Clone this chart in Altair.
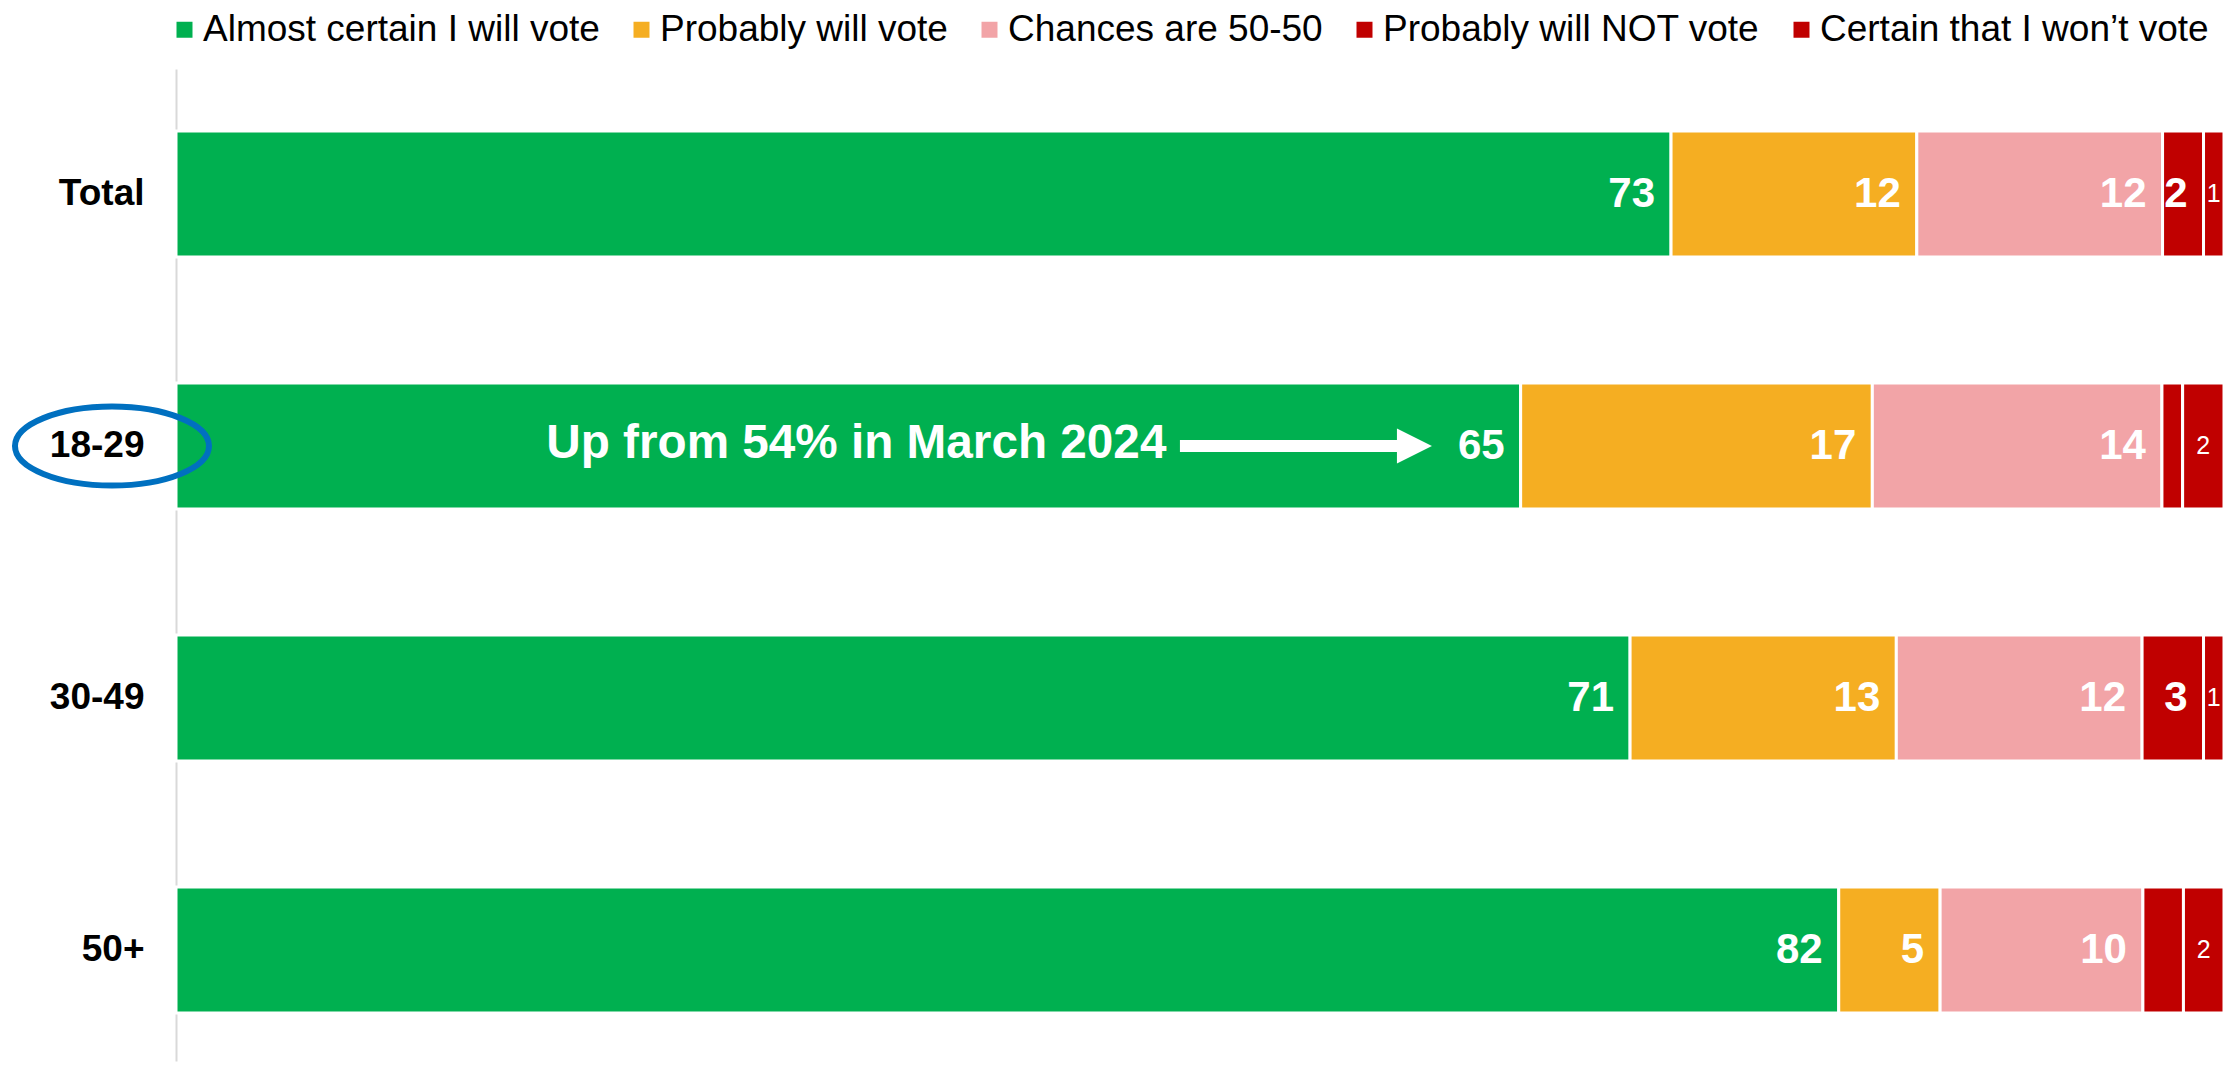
import altair as alt
import pandas as pd

groups = ["Total", "18-29", "30-49", "50+"]
categories = [
    "Almost certain I will vote",
    "Probably will vote",
    "Chances are 50-50",
    "Probably will NOT vote",
    "Certain that I won\u2019t vote",
]
colors = ["#00B050", "#F5AE22", "#F2A4A7", "#C00000", "#C00000"]

almost_certain = [73, 65, 71, 82]
probably = [12, 17, 13, 5]
fifty_fifty = [12, 14, 12, 10]
probably_not = [2, 1, 3, 2]
certain_not = [1, 2, 1, 2]

labels_almost_certain = ["73", "65", "71", "82"]
labels_probably = ["12", "17", "13", "5"]
labels_fifty_fifty = ["12", "14", "12", "10"]
labels_probably_not = ["2", "", "3", ""]
labels_certain_not = ["1", "2", "1", "2"]

series = [almost_certain, probably, fifty_fifty, probably_not, certain_not]
series_labels = [labels_almost_certain, labels_probably, labels_fifty_fifty,
                 labels_probably_not, labels_certain_not]
label_styles = ["big", "big", "big", "big", "small"]

rows = []
for ci, (cat, vals, labs, sty) in enumerate(zip(categories, series, series_labels, label_styles)):
    for gi, g in enumerate(groups):
        rows.append({"group": g, "category": cat, "order": ci,
                     "value": vals[gi], "label": labs[gi], "style": sty})
df = pd.DataFrame(rows)

annotation_text = "Up from 54% in March 2024"
annotation_group = "18-29"

FONT = "Liberation Sans, Arial, Helvetica, sans-serif"

xscale = alt.Scale(domain=[0, 1], nice=False, zero=False)
yscale = alt.Scale(domain=groups, paddingInner=0.5, paddingOuter=0.2183, align=0.564)

base = (
    alt.Chart(df)
    .transform_joinaggregate(total="sum(value)", groupby=["group"])
    .transform_calculate(pct="datum.value / datum.total")
    .transform_stack(stack="pct", groupby=["group"], sort=[alt.SortField("order")], as_=["x0", "x1"])
    .transform_calculate(xm="(datum.x0 + datum.x1) / 2")
)

ycol = alt.Y(
    "group:N",
    sort=groups,
    scale=yscale,
    axis=alt.Axis(
        title=None,
        ticks=False,
        grid=False,
        domainColor="#D9D9D9",
        domainWidth=2,
        labelFont=FONT,
        labelFontSize=37,
        labelFontWeight="bold",
        labelColor="#000000",
        labelPadding=32,
    ),
)

bars = base.mark_bar(stroke="white", strokeWidth=3).encode(
    x=alt.X("x0:Q", scale=xscale, axis=None),
    x2="x1:Q",
    y=ycol,
    color=alt.Color(
        "category:N",
        sort=categories,
        scale=alt.Scale(domain=categories, range=colors),
        legend=alt.Legend(
            title=None,
            orient="none",
            direction="horizontal",
            columns=5,
            legendX=-10,
            legendY=-58,
            symbolType="square",
            symbolSize=256,
            symbolStrokeWidth=0,
            labelFont=FONT,
            labelFontSize=37,
            labelColor="#000000",
            labelOffset=0,
            columnPadding=23,
            labelLimit=1000,
        ),
    ),
    order=alt.Order("order:Q"),
)

big_labels = base.transform_filter("datum.style == 'big'").mark_text(
    align="right", baseline="middle", dx=-16, font=FONT, fontSize=42,
    fontWeight="bold", color="white",
).encode(
    x=alt.X("x1:Q", scale=xscale, axis=None),
    y=alt.Y("group:N", sort=groups, scale=yscale),
    text="label:N",
)

small_labels = base.transform_filter("datum.style == 'small'").mark_text(
    align="center", baseline="middle", font=FONT, fontSize=25,
    fontWeight="normal", color="white",
).encode(
    x=alt.X("xm:Q", scale=xscale, axis=None),
    y=alt.Y("group:N", sort=groups, scale=yscale),
    text="label:N",
)

ann_df = pd.DataFrame({
    "group": [annotation_group],
    "text": [annotation_text],
    "tx": [0.4836],
    "ax0": [0.4902],
    "ax1": [0.5991],
    "hx": [0.6047],
})

ann_text = alt.Chart(ann_df).mark_text(
    align="right", baseline="middle", font=FONT, fontSize=47.7,
    fontWeight="bold", color="white", dy=-2,
).encode(
    x=alt.X("tx:Q", scale=xscale, axis=None),
    y=alt.Y("group:N", sort=groups, scale=yscale),
    text="text:N",
)

ann_line = alt.Chart(ann_df).mark_rule(color="white", strokeWidth=12, dy=-2).encode(
    x=alt.X("ax0:Q", scale=xscale, axis=None),
    x2="ax1:Q",
    y=alt.Y("group:N", sort=groups, scale=yscale),
)

ann_head = alt.Chart(ann_df).mark_point(
    shape="M -1 -1 L 1 0 L -1 1 Z", size=1225, filled=True,
    fill="white", stroke="white", strokeWidth=0, opacity=1, dy=-2,
).encode(
    x=alt.X("hx:Q", scale=xscale, axis=None),
    y=alt.Y("group:N", sort=groups, scale=yscale),
)

ellipse = alt.Chart(ann_df).mark_point(
    shape="M -1 0 A 1 0.407 0 1 1 1 0 A 1 0.407 0 1 1 -1 0 Z",
    size=37636, filled=False, stroke="#0070C0", strokeWidth=6, opacity=1,
).encode(
    x=alt.value(-64),
    y=alt.Y("group:N", sort=groups, scale=yscale),
)

chart = (
    alt.layer(bars, big_labels, small_labels, ann_line, ann_head, ann_text, ellipse)
    .properties(
        width=2048,
        height=992,
        autosize=alt.AutoSizeParams(type="none"),
        padding={"left": 168, "top": 61, "right": 7, "bottom": 5},
    )
    .configure(font=FONT)
    .configure_view(strokeWidth=0, strokeOpacity=0)
)

chart.save("out.html", embed_options={"renderer": "svg", "actions": False})
